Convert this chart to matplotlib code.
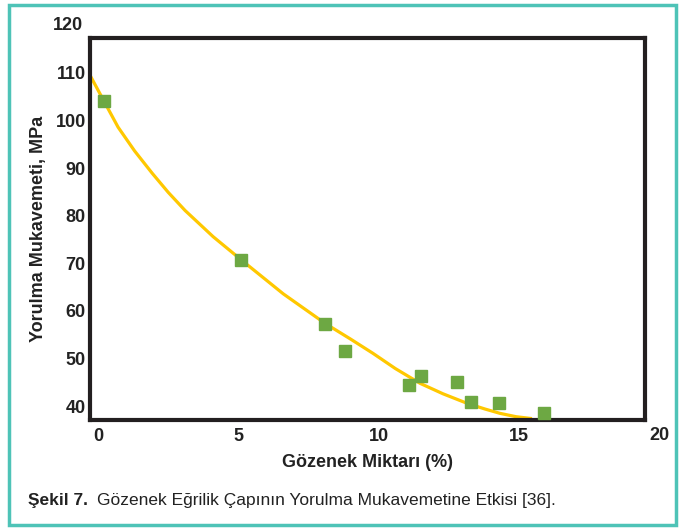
import numpy as np
import matplotlib.pyplot as plt
from matplotlib.patches import Rectangle

plt.rcParams['font.family'] = ['Liberation Sans', 'DejaVu Sans']

# measured points (porosity %, fatigue strength MPa)
gozenek = [0.2, 5.1, 8.1, 8.8, 11.1, 11.5, 12.8, 13.3, 14.3, 15.9]
mukavemet = [104.0, 70.6, 57.2, 51.5, 44.4, 46.3, 45.0, 40.8, 40.6, 38.5]

# trend curve
egri_x = [-0.29, 0.25, 0.71, 1.3, 1.93, 2.5, 3.1, 4.1, 5.13, 6.6, 8.09, 9.0, 9.8,
          10.6, 11.48, 12.3, 13.16, 13.8, 14.33, 14.9, 15.47]
egri_y = [109.5, 103.6, 98.6, 93.6, 88.9, 84.9, 81.1, 75.6, 70.6, 63.6, 57.4, 54.1, 51.1,
          47.9, 44.8, 42.6, 40.6, 39.4, 38.5, 37.8, 37.4]

xticks = [0, 5, 10, 15]
yticks = [40, 50, 60, 70, 80, 90, 100, 110]

fig = plt.figure(figsize=(6.84, 5.29), dpi=100)
ax = fig.add_axes([0.1316, 0.206, 0.8114, 0.722])

ax.plot(egri_x, egri_y, color='#FFC800', lw=2.3, zorder=2, solid_capstyle='butt')
ax.plot(gozenek, mukavemet, 's', color='#6DA843', ms=9, zorder=3)

ax.set_xticks(xticks)
ax.set_yticks(yticks)
ax.set_xlim(-0.29, 19.5)
ax.set_ylim(37.1, 117.3)
ax.tick_params(length=0, labelsize=13, pad=3)
ax.tick_params(axis='x', pad=6)
for lab in ax.get_xticklabels() + ax.get_yticklabels():
    lab.set_fontweight('bold')
    lab.set_color('#222222')
# 20 sits right of the frame, 120 above it
ax.text(20, -7.5 / 386, '20', transform=ax.get_xaxis_transform(), ha='center', va='top',
        fontsize=13, fontweight='bold', color='#222222', clip_on=False)
ax.text(-0.012, 120, '120', transform=ax.get_yaxis_transform(), ha='right', va='center',
        fontsize=13, fontweight='bold', color='#222222', clip_on=False)

for s in ax.spines.values():
    s.set_linewidth(3)
    s.set_color('#231F20')

ax.set_xlabel('Gözenek Miktarı (%)', fontsize=13, fontweight='bold', labelpad=6, color='#222222')
ax.set_ylabel('Yorulma Mukavemeti, MPa', fontsize=13, fontweight='bold', labelpad=6, color='#222222')

fig.text(0.041, 0.045, 'Şekil 7.', fontsize=12.5, fontweight='bold', color='#222222')
fig.text(0.142, 0.045, 'Gözenek Eğrilik Çapının Yorulma Mukavemetine Etkisi [36].',
         fontsize=12.5, color='#222222')

fig.patches.append(Rectangle((0.013, 0.008), 0.975, 0.982, transform=fig.transFigure,
                             fill=False, edgecolor='#4EC3B7', lw=2.5))

fig.savefig('out.png', dpi=100)
